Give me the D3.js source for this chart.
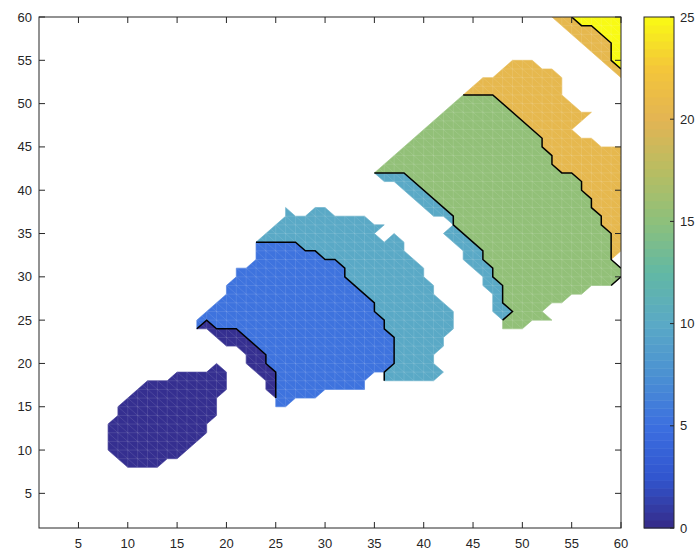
<!DOCTYPE html>
<html><head><meta charset="utf-8">
<script src="https://cdn.jsdelivr.net/npm/d3@7/dist/d3.min.js"></script>
<style>
body{margin:0;background:#fff}
svg{display:block}
text{font-family:"Liberation Sans",Arial,Helvetica,sans-serif;font-size:13px;fill:#262626}
</style>
</head><body>
<script>
// ---------- data ----------
const xTicks = [5,10,15,20,25,30,35,40,45,50,55,60];
const yTicks = [5,10,15,20,25,30,35,40,45,50,55,60];
const cbTicks = [0,5,10,15,20,25];
const cbStopValues = [0,2.5,5,7.5,10,12.5,15,17.5,20,22.5,25];
const cbStopColors = ["#352a87","#3156cf","#3c6fe0","#4b91d2","#5aa9c6","#62b8a4","#8dc07b","#b8bd62","#e3b453","#f4c63a","#f9fa14"];

const regionNames  = ["teal","blue","navyStrip","navyBlob","tealStrip","green","orange","orangeBand","yellow"];
const regionValues = [10, 5.3, 0.3, 0.3, 10, 15.3, 20.5, 20.5, 25];

const tealRegion = [[23,34],[26,37],[26,38],[27,37],[28,37],[29,38],[30,38],[31,37],[34,37],[35,36],[36,36],[35,35],[36,34],[37,35],[38,34],[38,33],[40,31],[40,30],[41,29],[41,28],[43,26],[43,24],[42,23],[42,22],[41,21],[41,20],[42,19],[41,18],[36,18],[36,19],[37,20],[37,23],[36,24],[36,25],[35,26],[35,27],[32,30],[32,31],[31,32],[30,32],[29,33],[28,33],[27,34]];
const blueRegion = [[23,34],[27,34],[28,33],[29,33],[30,32],[31,32],[32,31],[32,30],[35,27],[35,26],[36,25],[36,24],[37,23],[37,20],[36,19],[35,19],[34,18],[34,17],[30,17],[29,16],[27,16],[26,15],[25,15],[25,16],[25,19],[24,20],[24,21],[21,24],[19,24],[18,25],[17,24],[17,25],[20,28],[20,29],[21,30],[21,31],[22,31],[23,32]];
const navyStrip = [[17,24],[18,25],[19,24],[21,24],[24,21],[24,20],[25,19],[25,16],[24,17],[24,18],[23,19],[22,20],[22,21],[21,22],[20,22],[19,23],[18,24]];
const navyBlob = [[19,20],[20,19],[20,17],[19,16],[19,14],[18,13],[18,12],[15,9],[14,9],[13,8],[10,8],[9,9],[8,10],[8,13],[9,14],[9,15],[12,18],[14,18],[15,19],[18,19]];
const tealStrip = [[35,42],[38,42],[43,37],[43,36],[46,33],[46,32],[47,31],[47,30],[48,29],[48,27],[49,26],[48,25],[47,26],[47,28],[46,29],[46,30],[44,32],[44,33],[42,35],[43,36],[42,37],[41,37],[37,41],[36,41]];
const greenRegion = [[35,42],[44,51],[47,51],[52,46],[52,45],[53,44],[53,43],[54,42],[55,42],[56,41],[56,40],[57,39],[57,38],[58,37],[58,36],[59,35],[59,32],[60,31],[60,30],[59,29],[57,29],[56,28],[55,28],[54,27],[53,27],[52,26],[53,25],[51,25],[50,24],[48,24],[48,25],[49,26],[48,27],[48,29],[47,30],[47,31],[46,32],[46,33],[43,36],[43,37],[38,42]];
const orangeRegion = [[44,51],[46,53],[47,53],[49,55],[51,55],[52,54],[53,54],[54,53],[54,51],[56,49],[57,49],[55,47],[56,46],[57,46],[58,45],[60,45],[60,33],[59,32],[59,35],[58,36],[58,37],[57,38],[57,39],[56,40],[56,41],[55,42],[54,42],[53,43],[53,44],[52,45],[52,46],[47,51]];
const orangeBand = [[53,60],[55,60],[56,59],[57,59],[59,57],[59,55],[60,54],[60,53]];
const yellowCorner = [[55,60],[60,60],[60,54],[59,55],[59,57],[57,59],[56,59]];
const regionPolys = [tealRegion, blueRegion, navyStrip, navyBlob, tealStrip, greenRegion, orangeRegion, orangeBand, yellowCorner];

const contourLines = [
  [[17,24],[18,25],[19,24],[21,24],[24,21],[24,20],[25,19],[25,16]],
  [[23,34],[27,34],[28,33],[29,33],[30,32],[31,32],[32,31],[32,30],[35,27],[35,26],[36,25],[36,24],[37,23],[37,20],[36,19],[36,18]],
  [[35,42],[38,42],[43,37],[43,36],[46,33],[46,32],[47,31],[47,30],[48,29],[48,27],[49,26],[48,25]],
  [[44,51],[47,51],[52,46],[52,45],[53,44],[53,43],[54,42],[55,42],[56,41],[56,40],[57,39],[57,38],[58,37],[58,36],[59,35],[59,32],[60,31]],
  [[60,30],[59,29]],
  [[55,60],[56,59],[57,59],[59,57],[59,55],[60,54]]
];

// ---------- layout ----------
const W = 697, H = 552;
const L = 39, R = 621, T = 17, B = 528;
const cbL = 644, cbR = 674;

const x = d3.scaleLinear().domain([1,60]).range([L,R]);
const y = d3.scaleLinear().domain([1,60]).range([B,T]);
const color = d3.scaleLinear().domain(cbStopValues).range(cbStopColors).interpolate(d3.interpolateRgb);
const cbY = d3.scaleLinear().domain([0,25]).range([B,T]);

const svg = d3.select("body").append("svg").attr("width",W).attr("height",H);

const line = d3.line().x(d=>x(d[0])).y(d=>y(d[1]));

// clip for mesh
const defs = svg.append("defs");
const clip = defs.append("clipPath").attr("id","regclip");
regionPolys.forEach(p=>clip.append("path").attr("d", line(p)+"Z"));
defs.append("clipPath").attr("id","axclip").append("rect").attr("x",L).attr("y",T).attr("width",R-L).attr("height",B-T);

const g = svg.append("g").attr("clip-path","url(#axclip)");
g.selectAll("path.reg").data(regionPolys).join("path")
  .attr("class","reg")
  .attr("d", d=>line(d)+"Z")
  .attr("fill", (d,i)=>color(regionValues[i]))
  .attr("stroke", (d,i)=>color(regionValues[i]))
  .attr("stroke-width",0.6);

// faint triangle mesh
const mesh = g.append("g").attr("clip-path","url(#regclip)")
  .attr("stroke","#ffffff").attr("stroke-opacity",0.16).attr("stroke-width",0.7).attr("fill","none");
const gridVals = d3.range(1,61);
mesh.selectAll("line.v").data(gridVals).join("line").attr("class","v")
  .attr("x1",d=>x(d)).attr("x2",d=>x(d)).attr("y1",T).attr("y2",B);
mesh.selectAll("line.h").data(gridVals).join("line").attr("class","h")
  .attr("y1",d=>y(d)).attr("y2",d=>y(d)).attr("x1",L).attr("x2",R);
mesh.selectAll("line.d").data(d3.range(2,121)).join("line").attr("class","d")
  .attr("x1",d=>x(d-60)).attr("y1",d=>y(60)).attr("x2",d=>x(d-1)).attr("y2",d=>y(1));

// contour lines
g.selectAll("path.cl").data(contourLines).join("path")
  .attr("class","cl").attr("d",line)
  .attr("fill","none").attr("stroke","#000").attr("stroke-width",1.5)
  .attr("stroke-linejoin","miter");

// axes box
const axCol = "#262626";
svg.append("rect").attr("x",L).attr("y",T).attr("width",R-L).attr("height",B-T)
  .attr("fill","none").attr("stroke",axCol).attr("stroke-width",1);
const tl = 6;
const tk = svg.append("g").attr("stroke",axCol).attr("stroke-width",1);
xTicks.forEach(v=>{
  tk.append("line").attr("x1",x(v)).attr("x2",x(v)).attr("y1",B).attr("y2",B-tl);
  tk.append("line").attr("x1",x(v)).attr("x2",x(v)).attr("y1",T).attr("y2",T+tl);
});
yTicks.forEach(v=>{
  tk.append("line").attr("y1",y(v)).attr("y2",y(v)).attr("x1",L).attr("x2",L+tl);
  tk.append("line").attr("y1",y(v)).attr("y2",y(v)).attr("x1",R).attr("x2",R-tl);
});
svg.append("g").selectAll("text").data(xTicks).join("text")
  .attr("x",d=>x(d)).attr("y",548).attr("text-anchor","middle").text(d=>d);
svg.append("g").selectAll("text").data(yTicks).join("text")
  .attr("x",32).attr("y",d=>y(d)).attr("dy","0.35em").attr("text-anchor","end").text(d=>d);

// colorbar
const nBands = 64;
const bands = d3.range(nBands);
const bandH = (B-T)/nBands;
svg.append("g").selectAll("rect").data(bands).join("rect")
  .attr("x",cbL).attr("width",cbR-cbL)
  .attr("y",d=>cbY((d+1)*25/nBands)).attr("height",bandH+0.5)
  .attr("fill",d=>color((d+0.5)*25/nBands));
svg.append("rect").attr("x",cbL).attr("y",T).attr("width",cbR-cbL).attr("height",B-T)
  .attr("fill","none").attr("stroke",axCol).attr("stroke-width",1);
const ctk = svg.append("g").attr("stroke",axCol);
cbTicks.forEach(v=>{
  ctk.append("line").attr("x1",cbR).attr("x2",cbR-4).attr("y1",cbY(v)).attr("y2",cbY(v));
});
svg.append("g").selectAll("text").data(cbTicks).join("text")
  .attr("x",680).attr("y",d=>cbY(d)).attr("dy","0.35em").attr("text-anchor","start").text(d=>d);
</script>
</body></html>
